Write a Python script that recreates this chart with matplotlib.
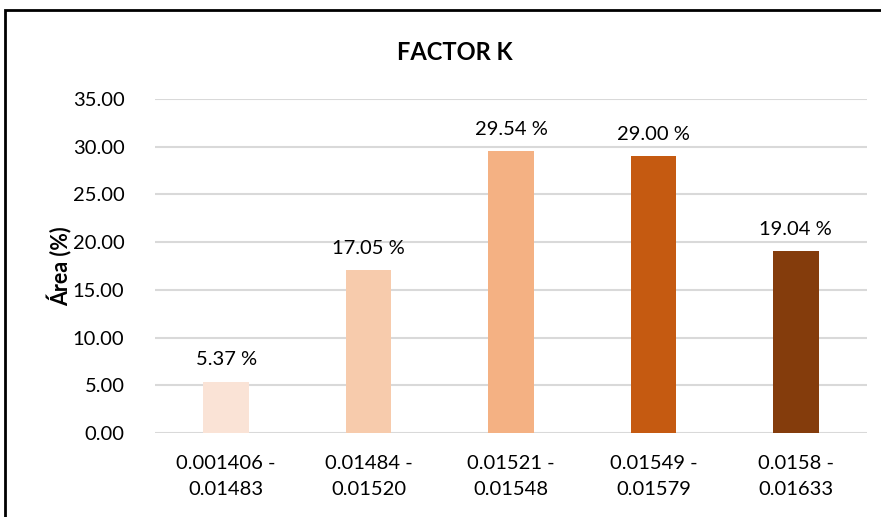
import numpy as np
import matplotlib.pyplot as plt
from matplotlib.patches import Rectangle

plt.rcParams['font.family'] = ['Lato', 'DejaVu Sans']

# intervalos del factor K y porcentaje de area
rangos = ["0.001406 -\n0.01483", "0.01484 -\n0.01520", "0.01521 -\n0.01548",
          "0.01549 -\n0.01579", "0.0158 -\n0.01633"]
area = [5.37, 17.05, 29.54, 29.00, 19.04]
colores = ["#FAE3D6", "#F7CBAC", "#F4B183", "#C55A11", "#843C0C"]

fig = plt.figure(figsize=(8.81, 5.17), dpi=100)
ax = fig.add_axes([155/881, 1 - 433/517, 712/881, 334/517])

x = np.arange(len(area))
ax.bar(x, area, width=0.32, color=colores, zorder=3)

for xi, v in zip(x, area):
    ax.text(xi, v + 1.4, "%.2f %%" % v, ha="center", va="bottom", fontsize=14.5)

ax.set_xlim(-0.5, len(area) - 0.5)
ax.set_ylim(0, 35)
ax.set_yticks(np.arange(0, 35.1, 5))
ax.set_yticklabels(["%.2f" % t for t in np.arange(0, 35.1, 5)])
ax.set_xticks(x)
ax.set_xticklabels(rangos, linespacing=1.6)
ax.tick_params(axis="both", length=0, labelsize=14.5)
ax.tick_params(axis="x", pad=16)
ax.tick_params(axis="y", pad=22)
ax.grid(axis="y", color="#D9D9D9", linewidth=1.5, zorder=0)
for s in ax.spines.values():
    s.set_visible(False)

ax.set_ylabel("Área (%)", fontsize=15.5, fontweight="bold", labelpad=0)
fig.text(455/881, 1 - 52/517, "FACTOR K", ha="center", va="center",
         fontsize=17, fontweight="bold")

# marco del grafico
fig.patches.append(Rectangle((5/881, -0.1), 1.1, 1 - 10/517 + 0.1,
                             transform=fig.transFigure, fill=False,
                             edgecolor="black", linewidth=2))

fig.savefig("out.png", dpi=100)
